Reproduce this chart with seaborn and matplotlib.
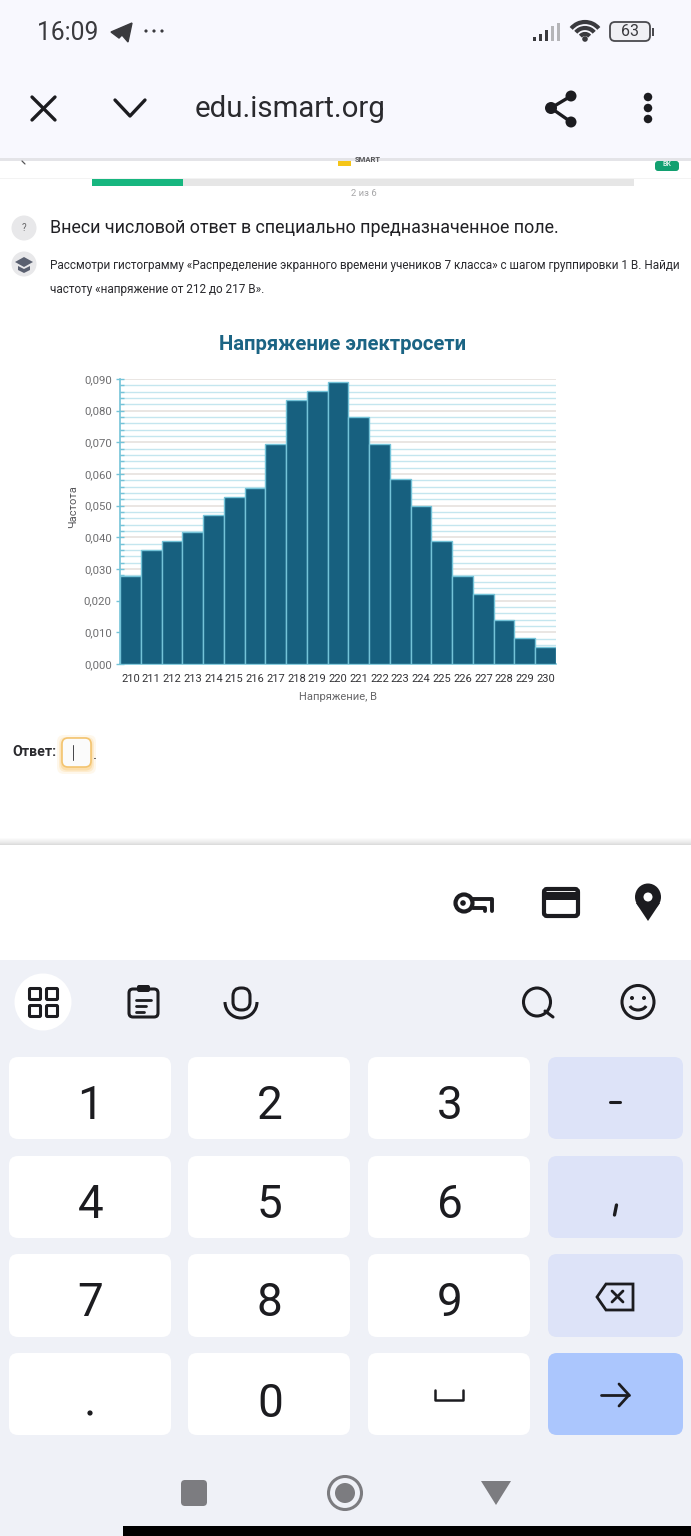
import matplotlib
matplotlib.use('Agg')
import matplotlib.pyplot as plt
from matplotlib.patches import Rectangle, FancyBboxPatch, Circle, Polygon, Ellipse, Arc
from matplotlib.ticker import MultipleLocator, FuncFormatter
import numpy as np
import pandas as pd
import seaborn as sns

# Values
voltage = ['210', '211', '212', '213', '214', '215', '216', '217', '218', '219', '220',
           '221', '222', '223', '224', '225', '226', '227', '228', '229', '230']
frequency = [0.0278, 0.0360, 0.0388, 0.0417, 0.0472, 0.0527, 0.0556, 0.0695, 0.0834, 0.0862, 0.0890,
             0.0779, 0.0695, 0.0583, 0.0499, 0.0387, 0.0277, 0.0221, 0.0138, 0.0082, 0.0055]
keys = ['1', '2', '3', '4', '5', '6', '7', '8', '9']

W, H = 691, 1536
DARK = '#1c1c20'

sns.set_theme(style='white')
plt.rcParams['font.family'] = ['Roboto', 'DejaVu Sans']

fig = plt.figure(figsize=(W / 100, H / 100), dpi=100, facecolor='white')

# Whole screen layer, coordinates are screen pixels
ui = fig.add_axes([0, 0, 1, 1], zorder=0)
ui.set_xlim(0, W)
ui.set_ylim(H, 0)
ui.axis('off')


def rect(x0, y0, x1, y1, color, z=1):
    ui.add_patch(Rectangle((x0, y0), x1 - x0, y1 - y0, fc=color, ec='none', zorder=z))


def rrect(x0, y0, x1, y1, color, r=9, ec='none', lw=0, z=2):
    ui.add_patch(FancyBboxPatch((x0 + r, y0 + r), x1 - x0 - 2 * r, y1 - y0 - 2 * r,
                                boxstyle='round,pad=%s,rounding_size=%s' % (r, r),
                                fc=color, ec=ec, lw=lw, zorder=z))


def line(xs, ys, color=DARK, lw=2.0, z=3):
    ui.plot(xs, ys, color=color, lw=lw, solid_capstyle='round', solid_joinstyle='round', zorder=z)


def label(x, y, s, size, color=DARK, ha='center', va='center', **kw):
    ui.text(x, y, s, fontsize=size, color=color, ha=ha, va=va, zorder=4, **kw)


# Browser header
rect(0, 0, W, 158, '#f8f8fe')
rect(0, 158, W, 160.5, '#e4e4e8')
label(37, 32.5, '16:09', 17.7, '#3a3a3e', ha='left')
ui.add_patch(Polygon([(111, 32), (132, 23), (128, 42), (122, 35), (119, 38)], fc='#3a3a3e', ec='#3a3a3e', lw=1, zorder=3))
for x in (146, 154, 162):
    ui.add_patch(Circle((x, 31), 1.6, fc='#3a3a3e', ec='none', zorder=3))
for x, h, c in zip((535, 541, 547, 553, 559), (4, 7, 11, 15, 18),
                   ('#3a3a3e', '#3a3a3e', '#3a3a3e', '#b5b5b8', '#b5b5b8')):
    rect(x - 1.5, 41 - h, x + 1.5, 41, c, 3)
for r, lw in ((18, 3.0), (12, 3.0), (6, 3.0)):
    ui.add_patch(Arc((585, 40), 2 * r, 2 * r, theta1=220, theta2=320, color='#3a3a3e', lw=lw, zorder=3))
ui.add_patch(Circle((585, 39), 2.8, fc='#3a3a3e', ec='none', zorder=3))
rrect(610, 22, 650, 41, '#f0f0f4', r=5, ec='#4a4a4e', lw=1.3)
label(630, 32, '63', 11.5, '#3a3a3e')
rect(652, 28, 654, 36, '#4a4a4e', 3)

line([32, 55], [97, 120], lw=2.4)
line([32, 55], [120, 97], lw=2.4)
line([115, 130, 145], [100, 116, 100], lw=2.4)
label(195, 109, 'edu.ismart.org', 21.2, '#2a2a2e', ha='left')
line([571, 551, 571], [96, 108, 122], lw=2.4)
for x, y, r in ((571, 96, 5.5), (551, 108, 6), (571, 122, 5.5)):
    ui.add_patch(Circle((x, y), r, fc=DARK, ec='none', zorder=3))
for y in (97, 108, 119):
    ui.add_patch(Ellipse((648, y), 8.5, 8.5, fc=DARK, ec='none', zorder=3))

# Page content, with the logo row cut off by the header
rect(338, 161, 351, 166, '#f5c518', 2)
label(368, 160, 'SMART', 5.5, '#555558', fontweight='bold')
line([22, 25], [161, 164], color='#555558', lw=0.9)
rrect(655, 161, 679, 171, '#12a070', r=3)
label(667, 164.5, 'ВК', 5, '#d8f0e6', fontweight='bold')
rect(0, 178, W, 179, '#f3f3f3', 1)
rect(92, 179, 634, 186, '#e6e6e6', 2)
rect(92, 179, 183, 186, '#17b67f', 3)
label(363.5, 193.5, '2 из 6', 6.8, '#a6a6a8')
ui.add_patch(Ellipse((24, 228), 25, 25, fc='#e8e8ea', ec='none', zorder=2))
label(24, 228, '?', 7, '#666668')
ui.add_patch(Ellipse((24, 264), 25, 25, fc='#e8e8ea', ec='none', zorder=2))
ui.add_patch(Polygon([(15, 262), (24, 257), (33, 262), (24, 267)], fc='#5a6070', ec='none', zorder=3))
ui.add_patch(Polygon([(18, 266), (24, 269), (30, 266), (30, 270), (24, 273), (18, 270)], fc='#5a6070', ec='none', zorder=3))
label(50, 228, 'Внеси числовой ответ в специально предназначенное поле.', 12.87, '#202024', ha='left')
label(50, 265.5, 'Рассмотри гистограмму «Распределение экранного времени учеников 7 класса» с шагом группировки 1 В. Найди',
      8.47, '#2a2a2e', ha='left')
label(50, 290, 'частоту «напряжение от 212 до 217 В».', 8.5, '#2a2a2e', ha='left')

# Answer field
label(12, 752, 'Ответ:', 10.2, '#2a2a2e', ha='left', fontweight='bold')
for grow, alpha in ((5, 0.10), (3, 0.16), (1.5, 0.25)):
    rrect(62 - grow, 738 - grow + 2, 91 + grow, 767 + grow + 2, (0.98, 0.72, 0.25, alpha), r=7, z=1)
rrect(62, 738, 91, 767, '#fbfbfb', r=6, ec='#f3c470', lw=1.2)
line([73, 73], [745, 760], color='#444448', lw=0.7)
label(95, 755, '.', 11, '#2a2a2e')

# Keyboard, with the soft shadow above it
for i, shade in enumerate(['#fbfbfb', '#f6f6f6', '#f2f2f2', '#eeeeee', '#e9e9e9', '#e3e3e3', '#dcdcdc']):
    rect(0, 838 + i, W, 839 + i, shade, 1)
rect(0, 845, W, 960, 'white', 1)
rect(0, 960, W, H, '#eff1f7', 1)

ui.add_patch(Circle((464, 903), 8.5, fc='none', ec=DARK, lw=3.0, zorder=3))
ui.add_patch(Circle((463, 903), 2.8, fc=DARK, ec='none', zorder=3))
line([473, 492, 492], [899, 899, 911], lw=2.8)
line([473, 485, 485], [908, 908, 911], lw=2.8)
rrect(544, 889, 578, 916, 'white', r=3, ec=DARK, lw=3.0, z=3)
rect(544, 892, 578, 900, DARK, 4)
ui.add_patch(Ellipse((648, 897), 26, 27, fc=DARK, ec='none', zorder=3))
ui.add_patch(Polygon([(636, 903), (660, 903), (648, 921)], fc=DARK, ec='none', zorder=3))
ui.add_patch(Circle((648, 897), 4.5, fc='white', ec='none', zorder=4))

ui.add_patch(Ellipse((43, 1002), 57, 57, fc='white', ec='none', zorder=2))
for x, y in ((35, 994), (52, 994), (35, 1011), (52, 1011)):
    rrect(x - 5.5, y - 5.5, x + 5.5, y + 5.5, 'white', r=1, ec=DARK, lw=2.2, z=3)
rrect(129, 989, 158, 1017, '#eff1f7', r=4, ec=DARK, lw=2.2, z=3)
rrect(137, 985, 150, 992, DARK, r=2, z=4)
line([136, 151], [1000, 1000], lw=2)
line([136, 146], [1006, 1006], lw=2)
line([136, 144], [1012, 1012], lw=2)
rrect(233, 988, 250, 1010, '#eff1f7', r=8, ec=DARK, lw=2.2, z=3)
ui.add_patch(Arc((241, 1002), 32, 32, theta1=0, theta2=180, color=DARK, lw=2.2, zorder=3))
ui.add_patch(Ellipse((537, 1002), 27, 28, fc='none', ec=DARK, lw=2.2, zorder=3))
line([545, 553], [1011, 1017], lw=2.2)
ui.add_patch(Ellipse((638, 1002), 32, 33, fc='none', ec=DARK, lw=2.2, zorder=3))
ui.add_patch(Circle((632, 998), 2, fc=DARK, ec='none', zorder=3))
ui.add_patch(Circle((644, 998), 2, fc=DARK, ec='none', zorder=3))
ui.add_patch(Arc((638, 1003), 18, 14, theta1=20, theta2=160, color=DARK, lw=2.2, zorder=3))

rows = [(1057, 1139), (1156, 1238), (1254, 1337), (1353, 1435)]
cols = [(9, 171), (188, 350), (368, 530)]
for i, key in enumerate(keys):
    x0, x1 = cols[i % 3]
    y0, y1 = rows[i // 3]
    rrect(x0, y0, x1, y1, 'white', r=9)
    label((x0 + x1) / 2 + 0.5, (y0 + y1) / 2 + 8, key, 33, DARK)
for y0, y1 in rows[:3]:
    rrect(548, y0, 683, y1, '#dde3f8', r=9)
rrect(548, rows[3][0], 683, rows[3][1], '#abc6fd', r=9)
for x0, x1 in cols:
    rrect(x0, rows[3][0], x1, rows[3][1], 'white', r=9)
label(270, 1404, '0', 33, DARK)
ui.add_patch(Circle((90, 1413), 2.6, fc=DARK, ec='none', zorder=3))
line([435.5, 435.5, 463, 463], [1390, 1400, 1400, 1390], lw=1.8)
line([610, 620], [1102, 1102], lw=2.2)
line([616.5, 614.5], [1205, 1215], lw=2.4)
ui.add_patch(Polygon([(597, 1297), (606, 1284), (633, 1284), (633, 1310), (606, 1310)], fc='none', ec=DARK, lw=2, zorder=3))
line([612, 623], [1291, 1302], lw=2)
line([623, 612], [1291, 1302], lw=2)
line([601, 629], [1395, 1395], lw=2)
line([619, 629, 619], [1384, 1395, 1406], lw=2)

# Navigation bar
rrect(181, 1480, 207, 1506, '#7c7c80', r=4)
ui.add_patch(Circle((345, 1493), 16.5, fc='none', ec='#7c7c80', lw=2.2, zorder=3))
ui.add_patch(Circle((345, 1493), 10, fc='#7c7c80', ec='none', zorder=3))
ui.add_patch(Polygon([(481, 1481), (511, 1481), (496, 1505)], fc='#7c7c80', ec='none', zorder=3))
rect(123, 1526, W, H, 'black', 5)

# The histogram
ax = fig.add_axes([120 / W, 1 - 664 / H, 436 / W, 285 / H], zorder=2)
ax.patch.set_alpha(0)
df = pd.DataFrame({'voltage': voltage, 'frequency': frequency})
sns.barplot(data=df, x='voltage', y='frequency', color='#17607f', saturation=1, width=1,
            edgecolor='#74c3d8', linewidth=1.0, ax=ax, zorder=3)
ax.set_xlim(-0.5, 20.5)
ax.set_ylim(0, 0.09)
ax.yaxis.set_major_locator(MultipleLocator(0.01))
ax.yaxis.set_minor_locator(MultipleLocator(0.002))
ax.yaxis.set_major_formatter(FuncFormatter(lambda v, p: ('%.3f' % v).replace('.', ',')))
ax.grid(False)
ax.grid(which='minor', axis='y', color='#c4e6ef', lw=1.0, zorder=0)
ax.grid(which='major', axis='y', color='#e8e4e0', lw=1.3, zorder=1)
ax.set_axisbelow(True)
for side in ('top', 'right'):
    ax.spines[side].set_visible(False)
for side in ('left', 'bottom'):
    ax.spines[side].set_color('#74c3d8')
    ax.spines[side].set_linewidth(1.2)
ax.tick_params(axis='y', which='major', direction='inout', length=6, width=1, color='#74c3d8',
               labelsize=8.2, labelcolor='#6e6e70', pad=3, left=True)
ax.tick_params(axis='y', which='minor', direction='in', length=3, width=1, color='#74c3d8', left=True)
ax.tick_params(axis='x', length=0, labelsize=8, labelcolor='#333336', pad=7)
ax.set_xlabel('Напряжение, В', fontsize=8, color='#666668', labelpad=6)
ax.set_ylabel('Частота', fontsize=8, color='#555558')
ax.yaxis.set_label_coords(-0.096, 0.554)
ax.set_title('Напряжение электросети', fontsize=14.6, fontweight='bold', color='#1b6484', pad=21, x=0.51)

fig.savefig('out.png', dpi=100)
